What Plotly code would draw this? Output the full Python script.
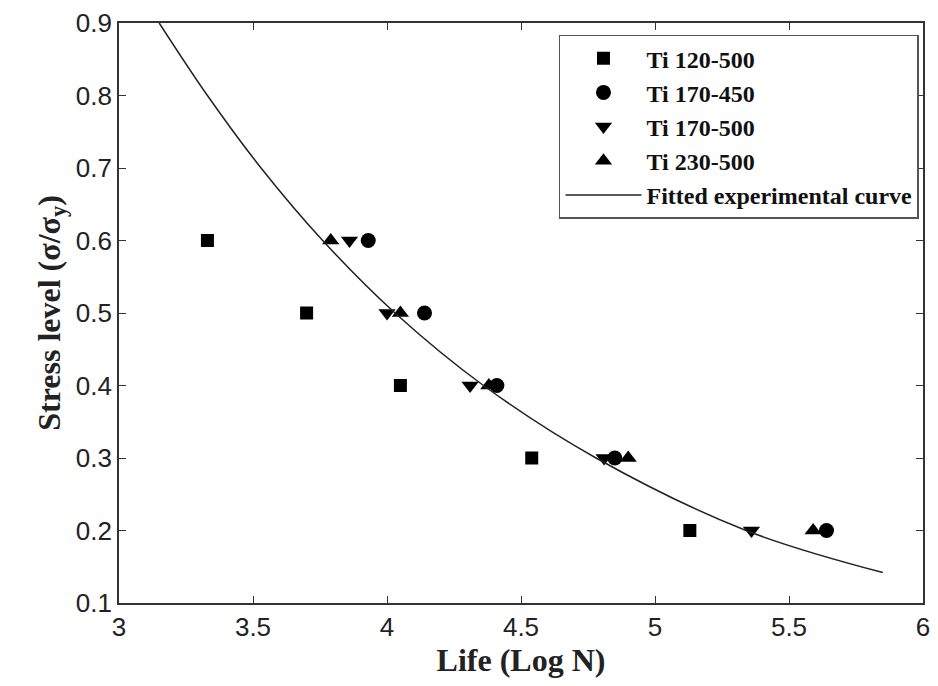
import plotly.graph_objects as go

# Data
stress = [0.6, 0.5, 0.4, 0.3, 0.2]
life_ti120_500 = [3.33, 3.70, 4.05, 4.54, 5.13]
life_ti170_450 = [3.93, 4.14, 4.41, 4.85, 5.64]
life_ti170_500 = [3.86, 4.00, 4.31, 4.81, 5.36]
life_ti230_500 = [3.79, 4.05, 4.38, 4.90, 5.59]

curve_life = [3.15, 3.33, 3.53, 3.76, 4.03, 4.36, 4.78, 5.34, 5.85]
curve_stress = [0.9, 0.8, 0.7, 0.6, 0.5, 0.4, 0.3, 0.2, 0.142]

x_ticks = [3, 3.5, 4, 4.5, 5, 5.5, 6]
y_ticks = [0.1, 0.2, 0.3, 0.4, 0.5, 0.6, 0.7, 0.8, 0.9]

fig = go.Figure()
series = [
    ("Ti 120-500", life_ti120_500, "square", 13),
    ("Ti 170-450", life_ti170_450, "circle", 15),
    ("Ti 170-500", life_ti170_500, "triangle-down", 15),
    ("Ti 230-500", life_ti230_500, "triangle-up", 15),
]
for i, (name, xs, sym, sz) in enumerate(series):
    fig.add_trace(go.Scatter(
        x=xs, y=stress, mode="markers", name=f"<b>{name}</b>",
        marker=dict(symbol=sym, size=sz, color="black", line=dict(width=0)),
    ))
fig.add_trace(go.Scatter(
    x=curve_life, y=curve_stress, mode="lines", name="<b>Fitted experimental curve</b>",
    line=dict(color="#222", width=1.5, shape="spline"),
))

serif = "Liberation Serif, Times New Roman, serif"
axis_common = dict(
    showline=True, linecolor="#333", linewidth=1.8, mirror="ticks",
    ticks="inside", ticklen=7, tickcolor="#333", tickwidth=1.2,
    showgrid=False, zeroline=False,
)
fig.update_xaxes(range=[3, 6], tickvals=x_ticks, ticktext=[str(v) for v in x_ticks],
                 tickfont=dict(family="Liberation Sans, Arial", size=26, color="#222"),
                 title=dict(text="<b>Life (Log N)</b>", font=dict(family=serif, size=32, color="#222"), standoff=8),
                 **axis_common)
fig.update_yaxes(range=[0.1, 0.9], tickvals=y_ticks, ticktext=[f"{v:.1f}" for v in y_ticks],
                 tickfont=dict(family="Liberation Sans, Arial", size=26, color="#222"),
                 title=dict(text="<b>Stress level (σ/σ<sub>y</sub>)</b>", font=dict(family=serif, size=32, color="#222"), standoff=6),
                 **axis_common)

fig.update_layout(
    width=938, height=686,
    margin=dict(l=119, r=8, t=17, b=83),
    plot_bgcolor="white", paper_bgcolor="white",
    legend=dict(
        x=0.995, y=0.98, xanchor="right", yanchor="top",
        bgcolor="white", bordercolor="#555", borderwidth=1.5,
        font=dict(family=serif, size=24, color="#111"),
        itemwidth=76,
    ),
)
fig.write_html("out.html")
